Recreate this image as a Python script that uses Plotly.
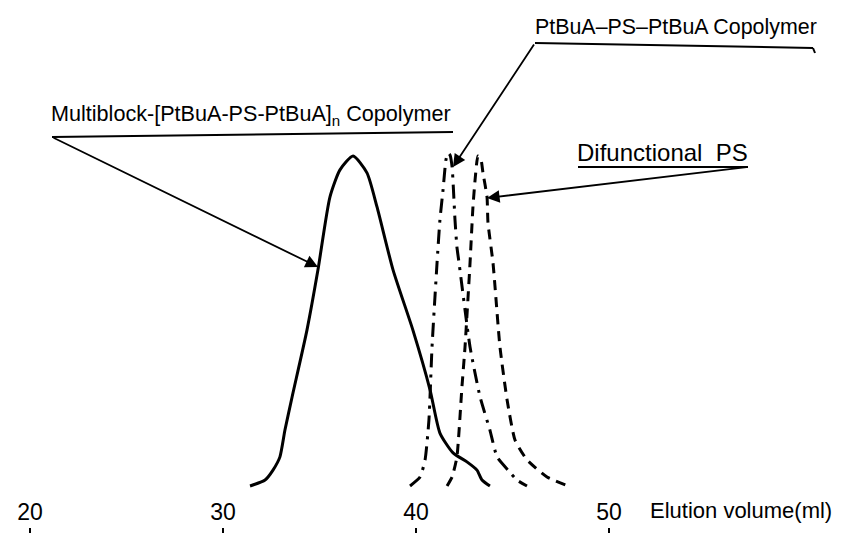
import plotly.graph_objects as go

# ---- data ----
tick_vals = [20, 30, 40, 50]
tick_text = ["20", "30", "40", "50"]

# Multiblock-[PtBuA-PS-PtBuA]n copolymer (solid)
multi_vol = [31.40, 32.18, 32.59, 32.95, 33.21, 33.58, 34.35, 34.92, 35.54, 36.06, 36.74,
             37.46, 37.98, 38.81, 39.84, 40.73, 41.24, 41.92, 42.64, 43.16, 43.42, 43.83]
multi_int = [0.0, 0.018, 0.048, 0.088, 0.169, 0.269, 0.471, 0.653, 0.873, 0.955, 0.997,
             0.946, 0.843, 0.653, 0.471, 0.290, 0.160, 0.100, 0.073, 0.048, 0.018, 0.0]

# PtBuA-PS-PtBuA copolymer (dash-dot)
tri_vol = [39.69, 40.21, 40.47, 40.67, 40.83, 41.09, 41.24, 41.40, 41.55, 41.66, 41.76,
           41.87, 42.02, 42.12, 42.23, 42.80, 43.32, 43.83, 44.20, 44.77, 45.23, 45.75]
tri_int = [0.0, 0.027, 0.079, 0.199, 0.420, 0.674, 0.804, 0.894, 0.985, 1.006, 1.0,
           0.964, 0.804, 0.722, 0.674, 0.420, 0.269, 0.169, 0.088, 0.048, 0.018, 0.0]

# Difunctional PS (dashed)
ps_vol = [41.61, 41.87, 42.12, 42.38, 42.54, 42.80, 42.95, 43.06, 43.21, 43.37, 43.47,
          43.68, 43.73, 43.99, 44.35, 44.72, 45.13, 45.75, 46.79, 47.88]
ps_int = [0.0, 0.027, 0.088, 0.299, 0.420, 0.674, 0.843, 0.924, 0.997, 0.985, 0.946,
          0.873, 0.795, 0.674, 0.420, 0.260, 0.139, 0.079, 0.027, 0.0]

FONT = "Liberation Sans, Arial, sans-serif"
W, H = 850, 533
OFF = 8  # default page margin of the html body


def px(x, y):
    """screen pixel position -> paper coordinates (figure margins are zero)."""
    return (x - OFF) / W, 1 - (y - OFF) / H


fig = go.Figure()
fig.add_trace(go.Scatter(x=multi_vol, y=multi_int, mode="lines",
                         line=dict(color="black", width=3, shape="spline", smoothing=0.6),
                         showlegend=False))
fig.add_trace(go.Scatter(x=tri_vol, y=tri_int, mode="lines",
                         line=dict(color="black", width=3, shape="spline", smoothing=0.5,
                                   dash="14px,7px,3px,7px"),
                         showlegend=False))
fig.add_trace(go.Scatter(x=ps_vol, y=ps_int, mode="lines",
                         line=dict(color="black", width=3, shape="spline", smoothing=0.5,
                                   dash="10px,7px"),
                         showlegend=False))

annotations = []
shapes = []


def text(x, y, s, size, anchor="left"):
    xp, yp = px(x, y)
    annotations.append(dict(x=xp, y=yp, xref="paper", yref="paper", text=s,
                            showarrow=False, xanchor=anchor, yanchor="middle",
                            font=dict(family=FONT, size=size, color="black")))


def line(x0, y0, x1, y1, w=2):
    a, b = px(x0, y0)
    c, d = px(x1, y1)
    shapes.append(dict(type="line", xref="paper", yref="paper", x0=a, y0=b, x1=c, y1=d,
                       line=dict(color="black", width=w)))


def arrow(x_from, y_from, x_to, y_to):
    xp, yp = px(x_to, y_to)
    annotations.append(dict(x=xp, y=yp, xref="paper", yref="paper", text="",
                            showarrow=True, arrowhead=2, arrowsize=1.4, arrowwidth=1.8,
                            arrowcolor="black", ax=x_from - x_to, ay=y_from - y_to,
                            axref="pixel", ayref="pixel", standoff=0))


# Multiblock label
text(49, 115, "Multiblock-[PtBuA-PS-PtBuA]<sub>n</sub> Copolymer", 21.6)
line(52, 137, 453, 132)
arrow(52, 137, 318, 267)

# PtBuA-PS-PtBuA label
text(533, 27, "PtBuA\u2013PS\u2013PtBuA Copolymer", 21.4)
line(535, 43, 813, 48)
line(813, 48, 815, 53)
arrow(535, 43, 453, 167)

# Difunctional PS label
text(575, 152, "Difunctional  PS", 24)
line(578, 167, 748, 167)
arrow(748, 167, 487, 198)

# axis title
text(648, 510, "Elution volume(ml)", 22)

# screen -> data mapping: x = 30 px at 20 ml, 19.3 px per ml; y = 486 px at 0, 331 px per unit
x_lo = 20 + (OFF - 30) / 19.3
x_hi = 20 + (OFF + W - 30) / 19.3
y_hi = (486 - OFF) / 331
y_lo = (486 - OFF - H) / 331

fig.update_layout(
    width=W, height=H,
    margin=dict(l=0, r=0, t=0, b=0),
    paper_bgcolor="white", plot_bgcolor="white",
    showlegend=False,
    annotations=annotations,
    shapes=shapes,
    xaxis=dict(range=[x_lo, x_hi], tickvals=tick_vals, ticktext=tick_text,
               side="top", anchor="free", position=(H - (527 - OFF)) / H,
               showline=False, showgrid=False, zeroline=False,
               ticks="inside", ticklen=7, tickwidth=2, tickcolor="black",
               ticklabelstandoff=2,
               tickfont=dict(family=FONT, size=23, color="black")),
    yaxis=dict(range=[y_lo, y_hi], visible=False, domain=[0, 1]),
)

fig.write_html("out.html")
